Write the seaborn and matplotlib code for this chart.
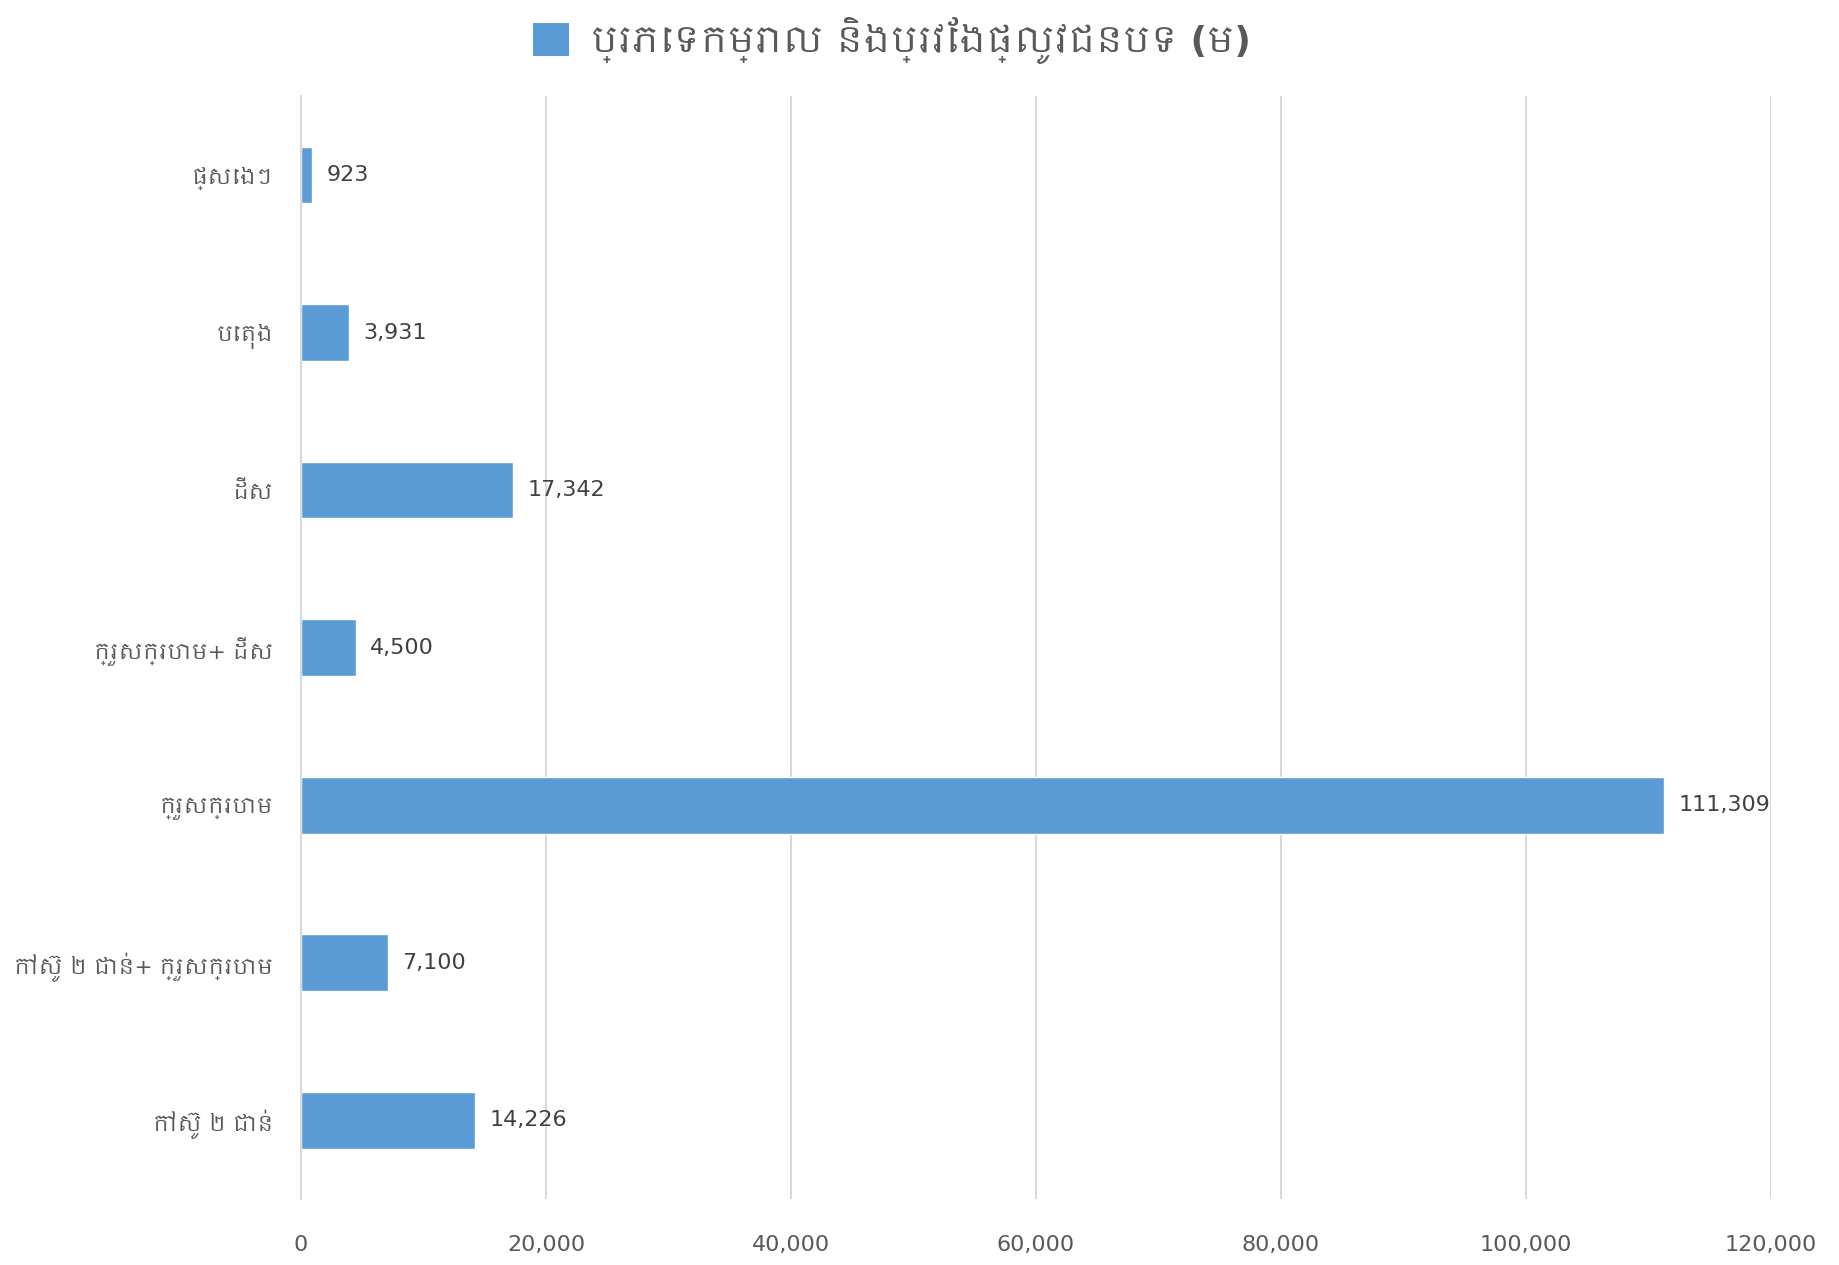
import pandas as pd
import seaborn as sns
import matplotlib.pyplot as plt
from matplotlib import font_manager
from matplotlib.patches import Patch

# Data
categories = ['ផ្សេងៗ', 'បេតុង', 'ដីស', 'ក្រួសក្រហម+ ដីស', 'ក្រួសក្រហម',
              'កៅស៊ូ ២ ជាន់+ ក្រួសក្រហម', 'កៅស៊ូ ២ ជាន់']
lengths = [923, 3931, 17342, 4500, 111309, 7100, 14226]
x_ticks = [0, 20000, 40000, 60000, 80000, 100000, 120000]
series_name = 'ប្រភេទកម្រាល និងប្រវែងផ្លូវជនបទ (ម)'

df = pd.DataFrame({'type': categories, 'length': lengths})

sns.set_theme(style='white')
# DejaVu for digits, fall back to a Khmer font (if installed) for the Khmer glyphs
khmer = sorted({f.name for f in font_manager.fontManager.ttflist if 'Khmer' in f.name})
plt.rcParams['font.family'] = ['DejaVu Sans'] + khmer[:1]

bar_color = '#5B9BD5'
text_color = '#595959'
grid_color = '#D9D9D9'

fig = plt.figure(figsize=(18.39, 12.65), dpi=100)
ax = fig.add_axes([0.1637, 0.052, 0.7993, 0.872])

sns.barplot(data=df, x='length', y='type', order=categories, color=bar_color,
            saturation=1, width=0.36, ax=ax)

ax.set_xlim(0, 120000)
ax.set_xticks(x_ticks)
ax.set_xticklabels([f'{v:,}' for v in x_ticks])
ax.set_xlabel('')
ax.set_ylabel('')

ax.grid(axis='x', color=grid_color, linewidth=1.5)
ax.set_axisbelow(True)
for s in ['top', 'right', 'bottom']:
    ax.spines[s].set_visible(False)
ax.spines['left'].set_color(grid_color)
ax.spines['left'].set_linewidth(1.5)

ax.tick_params(axis='x', length=0, pad=26, labelsize=16, labelcolor=text_color)
ax.tick_params(axis='y', length=0, pad=20, labelsize=15.5, labelcolor=text_color)

ax.bar_label(ax.containers[0], labels=[f'{v:,}' for v in lengths],
             padding=10, fontsize=16, color='#404040')

handle = Patch(facecolor=bar_color, edgecolor='none')
fig.legend([handle], [series_name], loc='center', bbox_to_anchor=(0.485, 0.968),
           frameon=False, handlelength=1.0, handleheight=1.0, handletextpad=0.6,
           prop={'size': 26, 'weight': 'bold'}, labelcolor=text_color)

plt.savefig('out.png', dpi=100)
